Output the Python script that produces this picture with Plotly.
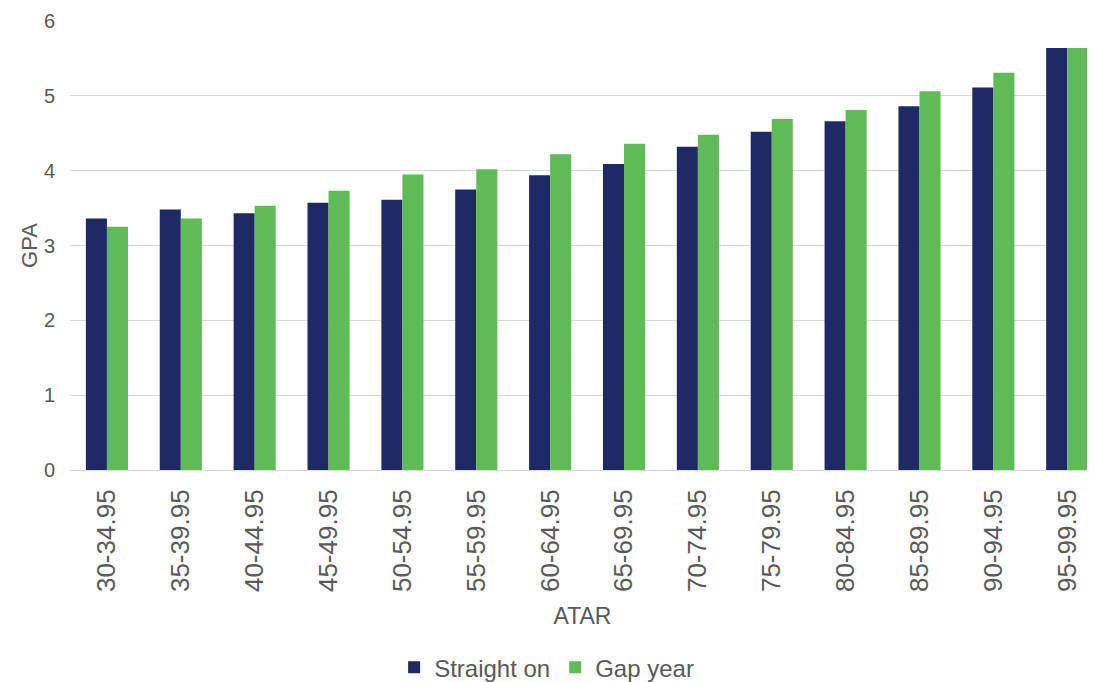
import plotly.graph_objects as go

# ATAR bands and mean GPA per group
atar_bands = ["30-34.95", "35-39.95", "40-44.95", "45-49.95", "50-54.95",
              "55-59.95", "60-64.95", "65-69.95", "70-74.95", "75-79.95",
              "80-84.95", "85-89.95", "90-94.95", "95-99.95"]
straight_on = [3.36, 3.48, 3.43, 3.57, 3.61, 3.75, 3.94, 4.09, 4.32, 4.52, 4.66, 4.86, 5.11, 5.64]
gap_year = [3.25, 3.36, 3.53, 3.73, 3.95, 4.02, 4.22, 4.36, 4.48, 4.69, 4.81, 5.06, 5.31, 5.64]

navy = "#1F2A64"
green = "#5FBB56"
grey_text = "#595959"
grid = "#D9D9D9"

fig = go.Figure()
fig.add_trace(go.Bar(x=atar_bands, y=straight_on, name="Straight on",
                     marker=dict(color=navy, line=dict(width=0))))
fig.add_trace(go.Bar(x=atar_bands, y=gap_year, name="Gap year",
                     marker=dict(color=green, line=dict(width=0))))

# the page body adds an 8px offset, so the figure is sized to fit the window
fig.update_layout(
    width=1087, height=674,
    margin=dict(l=62, r=0, t=13, b=212, autoexpand=False),
    paper_bgcolor="white", plot_bgcolor="white",
    barmode="group", bargap=0.43, bargroupgap=0,
    font=dict(family="Liberation Sans, Arial, sans-serif", color=grey_text),
    legend=dict(orientation="h", x=0.465, xanchor="center", y=-0.44, yanchor="middle",
                font=dict(size=24, color=grey_text), traceorder="normal"),
    xaxis=dict(
        range=[-0.5, 13.376], automargin=False,
        tickangle=-90, tickfont=dict(size=26, color=grey_text),
        ticklabelstandoff=8,
        showline=True, linecolor=grid, linewidth=1,
        showgrid=False, ticks="",
        title=dict(text="ATAR", font=dict(size=23, color=grey_text), standoff=16),
    ),
    yaxis=dict(
        range=[0, 6], dtick=1, automargin=False,
        tickfont=dict(size=20, color=grey_text),
        showgrid=True, gridcolor=grid, gridwidth=1,
        zeroline=False, showline=False, ticks="",
        ticklabelstandoff=14,
        title=dict(text="GPA", font=dict(size=22, color=grey_text), standoff=0),
    ),
)

fig.write_html("out.html")
